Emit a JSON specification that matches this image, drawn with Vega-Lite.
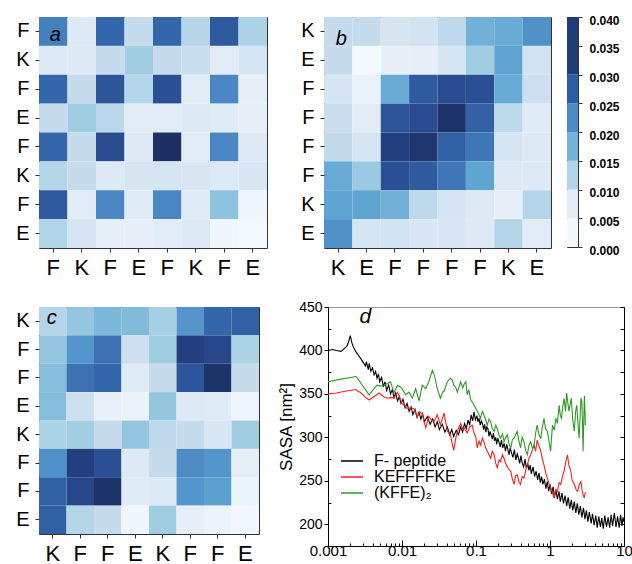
{
"$schema": "https://vega.github.io/schema/vega-lite/v6.json",
"padding": {"left": 6, "top": 13, "right": 0, "bottom": 0},
"config": {
  "font": "Liberation Sans",
  "view": {"stroke": "#333333", "strokeWidth": 1},
  "axis": {"labelFont": "Liberation Sans", "titleFont": "Liberation Sans", "labelColor": "#000000", "tickColor": "#333333", "domain": false, "grid": false, "labelAngle": 0, "titleFontWeight": "normal", "titleColor": "#000000"}
},
"datasets": {
  "A": [
    {"r":0,"c":0,"v":0.023},{"r":0,"c":1,"v":0.008},{"r":0,"c":2,"v":0.026},{"r":0,"c":3,"v":0.011},{"r":0,"c":4,"v":0.026},{"r":0,"c":5,"v":0.013},{"r":0,"c":6,"v":0.028},{"r":0,"c":7,"v":0.014},
    {"r":1,"c":0,"v":0.008},{"r":1,"c":1,"v":0.008},{"r":1,"c":2,"v":0.011},{"r":1,"c":3,"v":0.015},{"r":1,"c":4,"v":0.011},{"r":1,"c":5,"v":0.0105},{"r":1,"c":6,"v":0.007},{"r":1,"c":7,"v":0.009},
    {"r":2,"c":0,"v":0.026},{"r":2,"c":1,"v":0.011},{"r":2,"c":2,"v":0.029},{"r":2,"c":3,"v":0.013},{"r":2,"c":4,"v":0.030},{"r":2,"c":5,"v":0.007},{"r":2,"c":6,"v":0.022},{"r":2,"c":7,"v":0.006},
    {"r":3,"c":0,"v":0.011},{"r":3,"c":1,"v":0.015},{"r":3,"c":2,"v":0.0125},{"r":3,"c":3,"v":0.007},{"r":3,"c":4,"v":0.007},{"r":3,"c":5,"v":0.008},{"r":3,"c":6,"v":0.0075},{"r":3,"c":7,"v":0.006},
    {"r":4,"c":0,"v":0.026},{"r":4,"c":1,"v":0.011},{"r":4,"c":2,"v":0.031},{"r":4,"c":3,"v":0.008},{"r":4,"c":4,"v":0.039},{"r":4,"c":5,"v":0.007},{"r":4,"c":6,"v":0.022},{"r":4,"c":7,"v":0.008},
    {"r":5,"c":0,"v":0.013},{"r":5,"c":1,"v":0.011},{"r":5,"c":2,"v":0.008},{"r":5,"c":3,"v":0.009},{"r":5,"c":4,"v":0.009},{"r":5,"c":5,"v":0.0085},{"r":5,"c":6,"v":0.008},{"r":5,"c":7,"v":0.0085},
    {"r":6,"c":0,"v":0.028},{"r":6,"c":1,"v":0.007},{"r":6,"c":2,"v":0.022},{"r":6,"c":3,"v":0.0075},{"r":6,"c":4,"v":0.022},{"r":6,"c":5,"v":0.0075},{"r":6,"c":6,"v":0.0165},{"r":6,"c":7,"v":0.003},
    {"r":7,"c":0,"v":0.0135},{"r":7,"c":1,"v":0.009},{"r":7,"c":2,"v":0.006},{"r":7,"c":3,"v":0.006},{"r":7,"c":4,"v":0.007},{"r":7,"c":5,"v":0.008},{"r":7,"c":6,"v":0.003},{"r":7,"c":7,"v":0.001}
  ],
  "B": [
    {"r":0,"c":0,"v":0.011},{"r":0,"c":1,"v":0.011},{"r":0,"c":2,"v":0.009},{"r":0,"c":3,"v":0.0095},{"r":0,"c":4,"v":0.012},{"r":0,"c":5,"v":0.018},{"r":0,"c":6,"v":0.0185},{"r":0,"c":7,"v":0.021},
    {"r":1,"c":0,"v":0.011},{"r":1,"c":1,"v":0.001},{"r":1,"c":2,"v":0.006},{"r":1,"c":3,"v":0.006},{"r":1,"c":4,"v":0.009},{"r":1,"c":5,"v":0.015},{"r":1,"c":6,"v":0.019},{"r":1,"c":7,"v":0.0095},
    {"r":2,"c":0,"v":0.009},{"r":2,"c":1,"v":0.005},{"r":2,"c":2,"v":0.0185},{"r":2,"c":3,"v":0.028},{"r":2,"c":4,"v":0.031},{"r":2,"c":5,"v":0.030},{"r":2,"c":6,"v":0.0185},{"r":2,"c":7,"v":0.010},
    {"r":3,"c":0,"v":0.0105},{"r":3,"c":1,"v":0.007},{"r":3,"c":2,"v":0.029},{"r":3,"c":3,"v":0.031},{"r":3,"c":4,"v":0.038},{"r":3,"c":5,"v":0.027},{"r":3,"c":6,"v":0.012},{"r":3,"c":7,"v":0.0075},
    {"r":4,"c":0,"v":0.0115},{"r":4,"c":1,"v":0.009},{"r":4,"c":2,"v":0.034},{"r":4,"c":3,"v":0.037},{"r":4,"c":4,"v":0.027},{"r":4,"c":5,"v":0.024},{"r":4,"c":6,"v":0.009},{"r":4,"c":7,"v":0.008},
    {"r":5,"c":0,"v":0.0185},{"r":5,"c":1,"v":0.0155},{"r":5,"c":2,"v":0.030},{"r":5,"c":3,"v":0.028},{"r":5,"c":4,"v":0.024},{"r":5,"c":5,"v":0.019},{"r":5,"c":6,"v":0.008},{"r":5,"c":7,"v":0.008},
    {"r":6,"c":0,"v":0.019},{"r":6,"c":1,"v":0.019},{"r":6,"c":2,"v":0.018},{"r":6,"c":3,"v":0.012},{"r":6,"c":4,"v":0.009},{"r":6,"c":5,"v":0.008},{"r":6,"c":6,"v":0.006},{"r":6,"c":7,"v":0.013},
    {"r":7,"c":0,"v":0.021},{"r":7,"c":1,"v":0.009},{"r":7,"c":2,"v":0.0095},{"r":7,"c":3,"v":0.0085},{"r":7,"c":4,"v":0.0085},{"r":7,"c":5,"v":0.008},{"r":7,"c":6,"v":0.013},{"r":7,"c":7,"v":0.007}
  ],
  "C": [
    {"r":0,"c":0,"v":0.013},{"r":0,"c":1,"v":0.016},{"r":0,"c":2,"v":0.0175},{"r":0,"c":3,"v":0.0172},{"r":0,"c":4,"v":0.0145},{"r":0,"c":5,"v":0.0205},{"r":0,"c":6,"v":0.026},{"r":0,"c":7,"v":0.027},
    {"r":1,"c":0,"v":0.016},{"r":1,"c":1,"v":0.0205},{"r":1,"c":2,"v":0.0245},{"r":1,"c":3,"v":0.010},{"r":1,"c":4,"v":0.015},{"r":1,"c":5,"v":0.034},{"r":1,"c":6,"v":0.032},{"r":1,"c":7,"v":0.014},
    {"r":2,"c":0,"v":0.017},{"r":2,"c":1,"v":0.0245},{"r":2,"c":2,"v":0.026},{"r":2,"c":3,"v":0.0075},{"r":2,"c":4,"v":0.011},{"r":2,"c":5,"v":0.029},{"r":2,"c":6,"v":0.038},{"r":2,"c":7,"v":0.011},
    {"r":3,"c":0,"v":0.017},{"r":3,"c":1,"v":0.010},{"r":3,"c":2,"v":0.0055},{"r":3,"c":3,"v":0.005},{"r":3,"c":4,"v":0.016},{"r":3,"c":5,"v":0.008},{"r":3,"c":6,"v":0.0075},{"r":3,"c":7,"v":0.0035},
    {"r":4,"c":0,"v":0.014},{"r":4,"c":1,"v":0.0148},{"r":4,"c":2,"v":0.011},{"r":4,"c":3,"v":0.016},{"r":4,"c":4,"v":0.012},{"r":4,"c":5,"v":0.011},{"r":4,"c":6,"v":0.0085},{"r":4,"c":7,"v":0.015},
    {"r":5,"c":0,"v":0.021},{"r":5,"c":1,"v":0.034},{"r":5,"c":2,"v":0.030},{"r":5,"c":3,"v":0.008},{"r":5,"c":4,"v":0.011},{"r":5,"c":5,"v":0.0215},{"r":5,"c":6,"v":0.0205},{"r":5,"c":7,"v":0.006},
    {"r":6,"c":0,"v":0.027},{"r":6,"c":1,"v":0.032},{"r":6,"c":2,"v":0.038},{"r":6,"c":3,"v":0.0075},{"r":6,"c":4,"v":0.008},{"r":6,"c":5,"v":0.0205},{"r":6,"c":6,"v":0.0195},{"r":6,"c":7,"v":0.0045},
    {"r":7,"c":0,"v":0.027},{"r":7,"c":1,"v":0.013},{"r":7,"c":2,"v":0.011},{"r":7,"c":3,"v":0.003},{"r":7,"c":4,"v":0.015},{"r":7,"c":5,"v":0.006},{"r":7,"c":6,"v":0.0045},{"r":7,"c":7,"v":0.002}
  ],
  "bins": [
    {"bin":"b1","lo":0.000,"hi":0.005},{"bin":"b2","lo":0.005,"hi":0.010},{"bin":"b3","lo":0.010,"hi":0.015},{"bin":"b4","lo":0.015,"hi":0.020},{"bin":"b5","lo":0.020,"hi":0.025},{"bin":"b6","lo":0.025,"hi":0.030},{"bin":"b7","lo":0.030,"hi":0.040}
  ],
  "lines": [
    {"s":"F- peptide","t":0.001,"v":400},{"s":"F- peptide","t":0.00115,"v":401},{"s":"F- peptide","t":0.0013,"v":400},{"s":"F- peptide","t":0.0015,"v":399},{"s":"F- peptide","t":0.0016,"v":401},{"s":"F- peptide","t":0.0018,"v":405},{"s":"F- peptide","t":0.0019,"v":410},{"s":"F- peptide","t":0.002,"v":417},{"s":"F- peptide","t":0.0021,"v":409},{"s":"F- peptide","t":0.0022,"v":404},{"s":"F- peptide","t":0.0024,"v":398},{"s":"F- peptide","t":0.0026,"v":394},{"s":"F- peptide","t":0.0028,"v":390},{"s":"F- peptide","t":0.003,"v":386},{"s":"F- peptide","t":0.0032,"v":382},{"s":"F- peptide","t":0.0033,"v":387},{"s":"F- peptide","t":0.0035,"v":378},{"s":"F- peptide","t":0.0036,"v":385},{"s":"F- peptide","t":0.0038,"v":376},{"s":"F- peptide","t":0.004,"v":380},{"s":"F- peptide","t":0.0042,"v":372},{"s":"F- peptide","t":0.0044,"v":376},{"s":"F- peptide","t":0.0046,"v":368},{"s":"F- peptide","t":0.0048,"v":373},{"s":"F- peptide","t":0.005,"v":364},{"s":"F- peptide","t":0.0053,"v":369},{"s":"F- peptide","t":0.0056,"v":358},{"s":"F- peptide","t":0.0059,"v":364},{"s":"F- peptide","t":0.0062,"v":354},{"s":"F- peptide","t":0.0066,"v":360},{"s":"F- peptide","t":0.007,"v":350},{"s":"F- peptide","t":0.0074,"v":355},{"s":"F- peptide","t":0.0078,"v":346},{"s":"F- peptide","t":0.0082,"v":351},{"s":"F- peptide","t":0.0087,"v":342},{"s":"F- peptide","t":0.0092,"v":347},{"s":"F- peptide","t":0.0097,"v":339},{"s":"F- peptide","t":0.0103,"v":344},{"s":"F- peptide","t":0.011,"v":334},{"s":"F- peptide","t":0.0117,"v":339},{"s":"F- peptide","t":0.0125,"v":330},{"s":"F- peptide","t":0.0133,"v":335},{"s":"F- peptide","t":0.014,"v":326},{"s":"F- peptide","t":0.015,"v":332},{"s":"F- peptide","t":0.016,"v":323},{"s":"F- peptide","t":0.017,"v":329},{"s":"F- peptide","t":0.018,"v":321},{"s":"F- peptide","t":0.019,"v":327},{"s":"F- peptide","t":0.02,"v":318},{"s":"F- peptide","t":0.022,"v":324},{"s":"F- peptide","t":0.024,"v":315},{"s":"F- peptide","t":0.026,"v":321},{"s":"F- peptide","t":0.028,"v":312},{"s":"F- peptide","t":0.03,"v":318},{"s":"F- peptide","t":0.032,"v":309},{"s":"F- peptide","t":0.035,"v":315},{"s":"F- peptide","t":0.038,"v":306},{"s":"F- peptide","t":0.041,"v":312},{"s":"F- peptide","t":0.044,"v":303},{"s":"F- peptide","t":0.047,"v":309},{"s":"F- peptide","t":0.05,"v":301},{"s":"F- peptide","t":0.054,"v":308},{"s":"F- peptide","t":0.058,"v":303},{"s":"F- peptide","t":0.062,"v":312},{"s":"F- peptide","t":0.066,"v":306},{"s":"F- peptide","t":0.07,"v":316},{"s":"F- peptide","t":0.074,"v":310},{"s":"F- peptide","t":0.078,"v":320},{"s":"F- peptide","t":0.082,"v":314},{"s":"F- peptide","t":0.086,"v":326},{"s":"F- peptide","t":0.09,"v":319},{"s":"F- peptide","t":0.094,"v":329},{"s":"F- peptide","t":0.098,"v":320},
    {"s":"F- peptide","t":0.103,"v":325},{"s":"F- peptide","t":0.106,"v":318},{"s":"F- peptide","t":0.11,"v":322},{"s":"F- peptide","t":0.114,"v":314},{"s":"F- peptide","t":0.118,"v":319},{"s":"F- peptide","t":0.122,"v":316},{"s":"F- peptide","t":0.127,"v":309},{"s":"F- peptide","t":0.131,"v":315},{"s":"F- peptide","t":0.136,"v":306},{"s":"F- peptide","t":0.14,"v":312},{"s":"F- peptide","t":0.145,"v":310},{"s":"F- peptide","t":0.15,"v":301},{"s":"F- peptide","t":0.155,"v":307},{"s":"F- peptide","t":0.16,"v":303},{"s":"F- peptide","t":0.166,"v":298},{"s":"F- peptide","t":0.172,"v":305},{"s":"F- peptide","t":0.178,"v":296},{"s":"F- peptide","t":0.185,"v":300},{"s":"F- peptide","t":0.19,"v":292},{"s":"F- peptide","t":0.197,"v":299},{"s":"F- peptide","t":0.205,"v":294},{"s":"F- peptide","t":0.213,"v":289},{"s":"F- peptide","t":0.22,"v":297},{"s":"F- peptide","t":0.23,"v":288},{"s":"F- peptide","t":0.24,"v":293},{"s":"F- peptide","t":0.25,"v":284},{"s":"F- peptide","t":0.26,"v":292},{"s":"F- peptide","t":0.27,"v":286},{"s":"F- peptide","t":0.28,"v":280},{"s":"F- peptide","t":0.29,"v":288},{"s":"F- peptide","t":0.3,"v":283},{"s":"F- peptide","t":0.315,"v":277},{"s":"F- peptide","t":0.33,"v":286},{"s":"F- peptide","t":0.345,"v":274},{"s":"F- peptide","t":0.36,"v":281},{"s":"F- peptide","t":0.375,"v":276},{"s":"F- peptide","t":0.39,"v":270},{"s":"F- peptide","t":0.405,"v":279},{"s":"F- peptide","t":0.42,"v":271},{"s":"F- peptide","t":0.44,"v":266},{"s":"F- peptide","t":0.46,"v":275},{"s":"F- peptide","t":0.48,"v":264},{"s":"F- peptide","t":0.5,"v":270},{"s":"F- peptide","t":0.52,"v":262},{"s":"F- peptide","t":0.54,"v":268},{"s":"F- peptide","t":0.56,"v":258},{"s":"F- peptide","t":0.59,"v":266},{"s":"F- peptide","t":0.62,"v":255},{"s":"F- peptide","t":0.65,"v":261},{"s":"F- peptide","t":0.68,"v":251},{"s":"F- peptide","t":0.71,"v":259},{"s":"F- peptide","t":0.74,"v":248},{"s":"F- peptide","t":0.77,"v":255},{"s":"F- peptide","t":0.8,"v":246},{"s":"F- peptide","t":0.84,"v":252},{"s":"F- peptide","t":0.88,"v":241},{"s":"F- peptide","t":0.92,"v":249},{"s":"F- peptide","t":0.96,"v":238},{"s":"F- peptide","t":1.0,"v":246},{"s":"F- peptide","t":1.05,"v":235},{"s":"F- peptide","t":1.1,"v":243},{"s":"F- peptide","t":1.15,"v":231},{"s":"F- peptide","t":1.2,"v":240},{"s":"F- peptide","t":1.26,"v":229},{"s":"F- peptide","t":1.32,"v":238},{"s":"F- peptide","t":1.38,"v":226},{"s":"F- peptide","t":1.45,"v":236},{"s":"F- peptide","t":1.52,"v":224},{"s":"F- peptide","t":1.6,"v":233},{"s":"F- peptide","t":1.68,"v":221},{"s":"F- peptide","t":1.76,"v":231},{"s":"F- peptide","t":1.85,"v":218},{"s":"F- peptide","t":1.94,"v":228},{"s":"F- peptide","t":2.03,"v":216},{"s":"F- peptide","t":2.13,"v":226},{"s":"F- peptide","t":2.23,"v":213},{"s":"F- peptide","t":2.34,"v":224},{"s":"F- peptide","t":2.45,"v":211},{"s":"F- peptide","t":2.57,"v":221},{"s":"F- peptide","t":2.7,"v":208},{"s":"F- peptide","t":2.83,"v":219},{"s":"F- peptide","t":2.97,"v":206},{"s":"F- peptide","t":3.1,"v":216},{"s":"F- peptide","t":3.25,"v":203},{"s":"F- peptide","t":3.4,"v":214},{"s":"F- peptide","t":3.6,"v":201},{"s":"F- peptide","t":3.75,"v":212},{"s":"F- peptide","t":3.95,"v":199},{"s":"F- peptide","t":4.15,"v":210},{"s":"F- peptide","t":4.35,"v":196},{"s":"F- peptide","t":4.55,"v":209},{"s":"F- peptide","t":4.8,"v":197},{"s":"F- peptide","t":5.0,"v":207},{"s":"F- peptide","t":5.25,"v":195},{"s":"F- peptide","t":5.5,"v":210},{"s":"F- peptide","t":5.8,"v":197},{"s":"F- peptide","t":6.1,"v":208},{"s":"F- peptide","t":6.4,"v":196},{"s":"F- peptide","t":6.7,"v":211},{"s":"F- peptide","t":7.0,"v":198},{"s":"F- peptide","t":7.4,"v":213},{"s":"F- peptide","t":7.8,"v":197},{"s":"F- peptide","t":8.2,"v":209},{"s":"F- peptide","t":8.6,"v":196},{"s":"F- peptide","t":9.0,"v":211},{"s":"F- peptide","t":9.4,"v":198},{"s":"F- peptide","t":9.7,"v":208},{"s":"F- peptide","t":10,"v":203},
    {"s":"KEFFFFKE","t":0.001,"v":350},{"s":"KEFFFFKE","t":0.0013,"v":351},{"s":"KEFFFFKE","t":0.0017,"v":353},{"s":"KEFFFFKE","t":0.00236,"v":355},{"s":"KEFFFFKE","t":0.0028,"v":351},{"s":"KEFFFFKE","t":0.0032,"v":346},{"s":"KEFFFFKE","t":0.0036,"v":343},{"s":"KEFFFFKE","t":0.0042,"v":347},{"s":"KEFFFFKE","t":0.0049,"v":351},{"s":"KEFFFFKE","t":0.0056,"v":347},{"s":"KEFFFFKE","t":0.0063,"v":345},{"s":"KEFFFFKE","t":0.0072,"v":346},{"s":"KEFFFFKE","t":0.0078,"v":345},{"s":"KEFFFFKE","t":0.0087,"v":352},{"s":"KEFFFFKE","t":0.0095,"v":344},{"s":"KEFFFFKE","t":0.01,"v":339},{"s":"KEFFFFKE","t":0.011,"v":336},{"s":"KEFFFFKE","t":0.0118,"v":333},{"s":"KEFFFFKE","t":0.013,"v":334},{"s":"KEFFFFKE","t":0.0145,"v":333},{"s":"KEFFFFKE","t":0.016,"v":324},{"s":"KEFFFFKE","t":0.0175,"v":329},{"s":"KEFFFFKE","t":0.0188,"v":327},{"s":"KEFFFFKE","t":0.0209,"v":311},{"s":"KEFFFFKE","t":0.023,"v":324},{"s":"KEFFFFKE","t":0.025,"v":320},{"s":"KEFFFFKE","t":0.027,"v":318},{"s":"KEFFFFKE","t":0.03,"v":326},{"s":"KEFFFFKE","t":0.033,"v":314},{"s":"KEFFFFKE","t":0.037,"v":328},{"s":"KEFFFFKE","t":0.041,"v":307},{"s":"KEFFFFKE","t":0.045,"v":303},{"s":"KEFFFFKE","t":0.048,"v":292},{"s":"KEFFFFKE","t":0.05,"v":285},{"s":"KEFFFFKE","t":0.053,"v":298},{"s":"KEFFFFKE","t":0.056,"v":307},{"s":"KEFFFFKE","t":0.062,"v":316},{"s":"KEFFFFKE","t":0.066,"v":310},{"s":"KEFFFFKE","t":0.069,"v":311},{"s":"KEFFFFKE","t":0.076,"v":305},{"s":"KEFFFFKE","t":0.082,"v":312},{"s":"KEFFFFKE","t":0.089,"v":314},{"s":"KEFFFFKE","t":0.094,"v":305},{"s":"KEFFFFKE","t":0.099,"v":301},{"s":"KEFFFFKE","t":0.104,"v":288},{"s":"KEFFFFKE","t":0.11,"v":296},{"s":"KEFFFFKE","t":0.115,"v":291},{"s":"KEFFFFKE","t":0.122,"v":299},{"s":"KEFFFFKE","t":0.128,"v":295},{"s":"KEFFFFKE","t":0.135,"v":288},{"s":"KEFFFFKE","t":0.142,"v":284},{"s":"KEFFFFKE","t":0.15,"v":280},{"s":"KEFFFFKE","t":0.158,"v":276},{"s":"KEFFFFKE","t":0.166,"v":284},{"s":"KEFFFFKE","t":0.176,"v":280},{"s":"KEFFFFKE","t":0.185,"v":270},{"s":"KEFFFFKE","t":0.194,"v":265},{"s":"KEFFFFKE","t":0.205,"v":274},{"s":"KEFFFFKE","t":0.215,"v":272},{"s":"KEFFFFKE","t":0.228,"v":280},{"s":"KEFFFFKE","t":0.239,"v":276},{"s":"KEFFFFKE","t":0.252,"v":270},{"s":"KEFFFFKE","t":0.265,"v":266},{"s":"KEFFFFKE","t":0.28,"v":263},{"s":"KEFFFFKE","t":0.295,"v":261},{"s":"KEFFFFKE","t":0.31,"v":252},{"s":"KEFFFFKE","t":0.327,"v":246},{"s":"KEFFFFKE","t":0.343,"v":256},{"s":"KEFFFFKE","t":0.36,"v":257},{"s":"KEFFFFKE","t":0.38,"v":249},{"s":"KEFFFFKE","t":0.4,"v":246},{"s":"KEFFFFKE","t":0.42,"v":255},{"s":"KEFFFFKE","t":0.445,"v":253},{"s":"KEFFFFKE","t":0.47,"v":262},{"s":"KEFFFFKE","t":0.494,"v":268},{"s":"KEFFFFKE","t":0.52,"v":276},{"s":"KEFFFFKE","t":0.55,"v":280},{"s":"KEFFFFKE","t":0.58,"v":286},{"s":"KEFFFFKE","t":0.61,"v":291},{"s":"KEFFFFKE","t":0.64,"v":284},{"s":"KEFFFFKE","t":0.67,"v":297},{"s":"KEFFFFKE","t":0.71,"v":290},{"s":"KEFFFFKE","t":0.75,"v":284},{"s":"KEFFFFKE","t":0.79,"v":275},{"s":"KEFFFFKE","t":0.83,"v":268},{"s":"KEFFFFKE","t":0.87,"v":260},{"s":"KEFFFFKE","t":0.92,"v":253},{"s":"KEFFFFKE","t":0.97,"v":247},{"s":"KEFFFFKE","t":1.02,"v":242},{"s":"KEFFFFKE","t":1.08,"v":236},{"s":"KEFFFFKE","t":1.13,"v":230},{"s":"KEFFFFKE","t":1.2,"v":240},{"s":"KEFFFFKE","t":1.26,"v":238},{"s":"KEFFFFKE","t":1.33,"v":248},{"s":"KEFFFFKE","t":1.4,"v":246},{"s":"KEFFFFKE","t":1.48,"v":256},{"s":"KEFFFFKE","t":1.55,"v":261},{"s":"KEFFFFKE","t":1.62,"v":270},{"s":"KEFFFFKE","t":1.72,"v":280},{"s":"KEFFFFKE","t":1.8,"v":268},{"s":"KEFFFFKE","t":1.91,"v":261},{"s":"KEFFFFKE","t":2.0,"v":250},{"s":"KEFFFFKE","t":2.13,"v":246},{"s":"KEFFFFKE","t":2.25,"v":240},{"s":"KEFFFFKE","t":2.36,"v":238},{"s":"KEFFFFKE","t":2.5,"v":246},{"s":"KEFFFFKE","t":2.62,"v":249},{"s":"KEFFFFKE","t":2.75,"v":236},{"s":"KEFFFFKE","t":2.9,"v":230},{"s":"KEFFFFKE","t":3.0,"v":237},
    {"s":"(KFFE)₂","t":0.001,"v":364},{"s":"(KFFE)₂","t":0.0015,"v":367},{"s":"(KFFE)₂","t":0.0024,"v":370},{"s":"(KFFE)₂","t":0.0036,"v":349},{"s":"(KFFE)₂","t":0.0046,"v":360},{"s":"(KFFE)₂","t":0.0052,"v":359},{"s":"(KFFE)₂","t":0.0057,"v":360},{"s":"(KFFE)₂","t":0.0064,"v":362},{"s":"(KFFE)₂","t":0.007,"v":364},{"s":"(KFFE)₂","t":0.0078,"v":351},{"s":"(KFFE)₂","t":0.0087,"v":360},{"s":"(KFFE)₂","t":0.0095,"v":358},{"s":"(KFFE)₂","t":0.01,"v":356},{"s":"(KFFE)₂","t":0.0112,"v":349},{"s":"(KFFE)₂","t":0.0124,"v":352},{"s":"(KFFE)₂","t":0.0138,"v":345},{"s":"(KFFE)₂","t":0.0153,"v":356},{"s":"(KFFE)₂","t":0.017,"v":342},{"s":"(KFFE)₂","t":0.0188,"v":360},{"s":"(KFFE)₂","t":0.0209,"v":356},{"s":"(KFFE)₂","t":0.023,"v":364},{"s":"(KFFE)₂","t":0.0257,"v":377},{"s":"(KFFE)₂","t":0.0275,"v":371},{"s":"(KFFE)₂","t":0.03,"v":356},{"s":"(KFFE)₂","t":0.033,"v":345},{"s":"(KFFE)₂","t":0.0355,"v":352},{"s":"(KFFE)₂","t":0.037,"v":353},{"s":"(KFFE)₂","t":0.041,"v":364},{"s":"(KFFE)₂","t":0.045,"v":368},{"s":"(KFFE)₂","t":0.048,"v":366},{"s":"(KFFE)₂","t":0.05,"v":360},{"s":"(KFFE)₂","t":0.053,"v":358},{"s":"(KFFE)₂","t":0.056,"v":352},{"s":"(KFFE)₂","t":0.062,"v":364},{"s":"(KFFE)₂","t":0.066,"v":357},{"s":"(KFFE)₂","t":0.069,"v":361},{"s":"(KFFE)₂","t":0.073,"v":364},{"s":"(KFFE)₂","t":0.076,"v":349},{"s":"(KFFE)₂","t":0.08,"v":355},{"s":"(KFFE)₂","t":0.085,"v":343},{"s":"(KFFE)₂","t":0.09,"v":340},{"s":"(KFFE)₂","t":0.094,"v":337},{"s":"(KFFE)₂","t":0.1,"v":333},{"s":"(KFFE)₂","t":0.104,"v":330},{"s":"(KFFE)₂","t":0.11,"v":326},{"s":"(KFFE)₂","t":0.115,"v":322},{"s":"(KFFE)₂","t":0.122,"v":330},{"s":"(KFFE)₂","t":0.128,"v":326},{"s":"(KFFE)₂","t":0.135,"v":320},{"s":"(KFFE)₂","t":0.142,"v":314},{"s":"(KFFE)₂","t":0.15,"v":321},{"s":"(KFFE)₂","t":0.158,"v":318},{"s":"(KFFE)₂","t":0.166,"v":310},{"s":"(KFFE)₂","t":0.176,"v":307},{"s":"(KFFE)₂","t":0.185,"v":314},{"s":"(KFFE)₂","t":0.194,"v":310},{"s":"(KFFE)₂","t":0.205,"v":302},{"s":"(KFFE)₂","t":0.215,"v":299},{"s":"(KFFE)₂","t":0.228,"v":304},{"s":"(KFFE)₂","t":0.239,"v":295},{"s":"(KFFE)₂","t":0.252,"v":300},{"s":"(KFFE)₂","t":0.265,"v":303},{"s":"(KFFE)₂","t":0.28,"v":292},{"s":"(KFFE)₂","t":0.295,"v":288},{"s":"(KFFE)₂","t":0.31,"v":297},{"s":"(KFFE)₂","t":0.327,"v":299},{"s":"(KFFE)₂","t":0.343,"v":303},{"s":"(KFFE)₂","t":0.36,"v":307},{"s":"(KFFE)₂","t":0.38,"v":296},{"s":"(KFFE)₂","t":0.4,"v":288},{"s":"(KFFE)₂","t":0.42,"v":300},{"s":"(KFFE)₂","t":0.445,"v":295},{"s":"(KFFE)₂","t":0.47,"v":285},{"s":"(KFFE)₂","t":0.494,"v":280},{"s":"(KFFE)₂","t":0.52,"v":291},{"s":"(KFFE)₂","t":0.55,"v":295},{"s":"(KFFE)₂","t":0.58,"v":287},{"s":"(KFFE)₂","t":0.61,"v":291},{"s":"(KFFE)₂","t":0.64,"v":305},{"s":"(KFFE)₂","t":0.67,"v":314},{"s":"(KFFE)₂","t":0.71,"v":303},{"s":"(KFFE)₂","t":0.75,"v":299},{"s":"(KFFE)₂","t":0.79,"v":312},{"s":"(KFFE)₂","t":0.83,"v":322},{"s":"(KFFE)₂","t":0.87,"v":310},{"s":"(KFFE)₂","t":0.92,"v":307},{"s":"(KFFE)₂","t":0.97,"v":295},{"s":"(KFFE)₂","t":1.02,"v":284},{"s":"(KFFE)₂","t":1.05,"v":300},{"s":"(KFFE)₂","t":1.08,"v":314},{"s":"(KFFE)₂","t":1.14,"v":308},{"s":"(KFFE)₂","t":1.2,"v":322},{"s":"(KFFE)₂","t":1.26,"v":316},{"s":"(KFFE)₂","t":1.33,"v":337},{"s":"(KFFE)₂","t":1.38,"v":325},{"s":"(KFFE)₂","t":1.43,"v":322},{"s":"(KFFE)₂","t":1.49,"v":336},{"s":"(KFFE)₂","t":1.55,"v":345},{"s":"(KFFE)₂","t":1.62,"v":330},{"s":"(KFFE)₂","t":1.68,"v":351},{"s":"(KFFE)₂","t":1.74,"v":340},{"s":"(KFFE)₂","t":1.8,"v":330},{"s":"(KFFE)₂","t":1.87,"v":338},{"s":"(KFFE)₂","t":1.94,"v":345},{"s":"(KFFE)₂","t":2.03,"v":320},{"s":"(KFFE)₂","t":2.13,"v":307},{"s":"(KFFE)₂","t":2.22,"v":330},{"s":"(KFFE)₂","t":2.3,"v":337},{"s":"(KFFE)₂","t":2.38,"v":318},{"s":"(KFFE)₂","t":2.47,"v":299},{"s":"(KFFE)₂","t":2.55,"v":322},{"s":"(KFFE)₂","t":2.62,"v":345},{"s":"(KFFE)₂","t":2.7,"v":341},{"s":"(KFFE)₂","t":2.76,"v":310},{"s":"(KFFE)₂","t":2.8,"v":284},{"s":"(KFFE)₂","t":2.86,"v":320},{"s":"(KFFE)₂","t":2.92,"v":348},{"s":"(KFFE)₂","t":2.97,"v":330},{"s":"(KFFE)₂","t":3.0,"v":314}
  ]
},
"resolve": {"scale": {"color": "independent"}},
"spacing": 20,
"columns": 1,
"align": "none",
"concat": [
  {
    "hconcat": [
      {
        "width": 228, "height": 231,
        "layer": [
          {"data": {"name": "A"}, "mark": "rect",
           "encoding": {
             "x": {"field": "c", "type": "ordinal", "axis": {"title": null, "labelFontSize": 22, "labelPadding": 5, "tickSize": 4, "labelExpr": "['F','K','F','E','F','K','F','E'][datum.value]"}},
             "y": {"field": "r", "type": "ordinal", "axis": {"title": null, "labelFontSize": 20, "labelPadding": 6, "tickSize": 4, "minExtent": 32, "labelExpr": "['F','K','F','E','F','K','F','E'][datum.value]"}},
             "color": {"field": "v", "type": "quantitative", "legend": null, "scale": {"domain": [0, 0.005, 0.008, 0.011, 0.014, 0.0165, 0.019, 0.022, 0.026, 0.03, 0.034, 0.04], "range": ["#f7fbff", "#eaf2fa", "#dde9f5", "#c6dcec", "#add3e6", "#8ec3de", "#5fa5d2", "#4a87c4", "#3366aa", "#2b4f94", "#223f80", "#1b2d5e"], "interpolate": "rgb"}}
           }},
          {"data": {"values": [{"lab": "a", "r": 0, "c": 0}]}, "mark": {"type": "text", "fontStyle": "italic", "fontSize": 20, "dx": 2, "dy": 4, "color": "#000000"},
           "encoding": {"x": {"field": "c", "type": "ordinal"}, "y": {"field": "r", "type": "ordinal"}, "text": {"field": "lab"}}}
        ]
      },
      {
        "width": 227, "height": 231,
        "layer": [
          {"data": {"name": "B"}, "mark": "rect",
           "encoding": {
             "x": {"field": "c", "type": "ordinal", "axis": {"title": null, "labelFontSize": 22, "labelPadding": 5, "tickSize": 4, "labelExpr": "['K','E','F','F','F','F','K','E'][datum.value]"}},
             "y": {"field": "r", "type": "ordinal", "axis": {"title": null, "labelFontSize": 20, "labelPadding": 6, "tickSize": 4, "minExtent": 41, "labelExpr": "['K','E','F','F','F','F','K','E'][datum.value]"}},
             "color": {"field": "v", "type": "quantitative", "legend": null, "scale": {"domain": [0, 0.005, 0.008, 0.011, 0.014, 0.0165, 0.019, 0.022, 0.026, 0.03, 0.034, 0.04], "range": ["#f7fbff", "#eaf2fa", "#dde9f5", "#c6dcec", "#add3e6", "#8ec3de", "#5fa5d2", "#4a87c4", "#3366aa", "#2b4f94", "#223f80", "#1b2d5e"], "interpolate": "rgb"}}
           }},
          {"data": {"values": [{"lab": "b", "r": 0, "c": 0}]}, "mark": {"type": "text", "fontStyle": "italic", "fontSize": 20, "dx": 3, "dy": 8, "color": "#000000"},
           "encoding": {"x": {"field": "c", "type": "ordinal"}, "y": {"field": "r", "type": "ordinal"}, "text": {"field": "lab"}}}
        ]
      },
      {
        "width": 11, "height": 230,
        "data": {"name": "bins"},
        "mark": "rect",
        "encoding": {
          "y": {"field": "lo", "type": "quantitative", "scale": {"domain": [0, 0.04], "nice": false, "zero": false}, "axis": {"title": null, "orient": "right", "values": [0, 0.005, 0.01, 0.015, 0.02, 0.025, 0.03, 0.035, 0.04], "format": ".3f", "labelFontWeight": "bold", "labelFontSize": 12, "tickSize": 4, "labelPadding": 7, "labelOffset": 3, "labelFlush": false, "labelOverlap": false}},
          "y2": {"field": "hi"},
          "color": {"field": "bin", "type": "nominal", "legend": null, "scale": {"domain": ["b1","b2","b3","b4","b5","b6","b7"], "range": ["#f3f8fd", "#e1ecf7", "#b3d3e8", "#72b3d6", "#4b8ac5", "#2e5da8", "#1f3b78"]}}
        }
      }
    ],
    "spacing": 14,
    "resolve": {"scale": {"color": "independent"}}
  },
  {
    "hconcat": [
      {
        "width": 220, "height": 227,
        "layer": [
          {"data": {"name": "C"}, "mark": "rect",
           "encoding": {
             "x": {"field": "c", "type": "ordinal", "axis": {"title": null, "labelFontSize": 22, "labelPadding": 5, "tickSize": 4, "labelExpr": "['K','F','F','E','K','F','F','E'][datum.value]"}},
             "y": {"field": "r", "type": "ordinal", "axis": {"title": null, "labelFontSize": 20, "labelPadding": 6, "tickSize": 4, "minExtent": 24, "maxExtent": 24, "labelExpr": "['K','F','F','E','K','F','F','E'][datum.value]"}},
             "color": {"field": "v", "type": "quantitative", "legend": null, "scale": {"domain": [0, 0.005, 0.008, 0.011, 0.014, 0.0165, 0.019, 0.022, 0.026, 0.03, 0.034, 0.04], "range": ["#f7fbff", "#eaf2fa", "#dde9f5", "#c6dcec", "#add3e6", "#8ec3de", "#5fa5d2", "#4a87c4", "#3366aa", "#2b4f94", "#223f80", "#1b2d5e"], "interpolate": "rgb"}}
           }},
          {"data": {"values": [{"lab": "c", "r": 0, "c": 0}]}, "mark": {"type": "text", "fontStyle": "italic", "fontSize": 20, "dx": -1, "dy": -3, "color": "#000000"},
           "encoding": {"x": {"field": "c", "type": "ordinal"}, "y": {"field": "r", "type": "ordinal"}, "text": {"field": "lab"}}}
        ]
      },
      {
        "width": 296, "height": 239,
        "view": {"stroke": "#999999"},
        "layer": [
          {"data": {"name": "lines"}, "mark": {"type": "line", "strokeWidth": 1.1},
           "encoding": {
             "x": {"field": "t", "type": "quantitative", "scale": {"type": "log", "domain": [0.001, 10], "nice": false},
                   "axis": {"title": "Time [µs]", "titleFontSize": 17, "titlePadding": 1, "labelFontSize": 15, "domain": true, "domainColor": "#000000", "tickColor": "#000000", "format": "~g", "labelFlush": false, "labelOverlap": false,
                            "values": [0.001,0.002,0.003,0.004,0.005,0.006,0.007,0.008,0.009,0.01,0.02,0.03,0.04,0.05,0.06,0.07,0.08,0.09,0.1,0.2,0.3,0.4,0.5,0.6,0.7,0.8,0.9,1,2,3,4,5,6,7,8,9,10],
                            "labelExpr": "indexof([0.001,0.01,0.1,1,10], datum.value) >= 0 ? datum.label : ''",
                            "tickSize": {"condition": {"test": "indexof([0.001,0.01,0.1,1,10], datum.value) >= 0", "value": -6}, "value": -3},
                            "labelPadding": 3}},
             "y": {"field": "v", "type": "quantitative", "scale": {"domain": [175, 450], "nice": false, "zero": false},
                   "axis": {"title": "SASA [nm²]", "titleFontSize": 17, "titlePadding": 3, "labelFontSize": 14, "domain": true, "domainColor": "#000000", "tickColor": "#000000", "labelFlush": false, "labelOverlap": false,
                            "values": [200,225,250,275,300,325,350,375,400,425,450],
                            "labelExpr": "datum.value % 50 == 0 ? datum.label : ''",
                            "tickSize": {"condition": {"test": "datum.value % 50 == 0", "value": 4}, "value": -3},
                            "labelPadding": 2}},
             "color": {"field": "s", "type": "nominal", "scale": {"domain": ["F- peptide", "KEFFFFKE", "(KFFE)₂"], "range": ["#000000", "#ff1f1f", "#2e9a26"]},
                       "legend": {"title": null, "orient": "none", "legendX": 16, "legendY": 146, "padding": 0, "labelFontSize": 16, "labelFont": "Liberation Sans", "symbolType": "M-1.57,0H1.57", "symbolSize": 196, "symbolStrokeWidth": 1.5, "labelOffset": 14, "rowPadding": 0}}
           }},
          {"data": {"values": [{"lab": "d", "t": 0.0032, "v": 438}]}, "mark": {"type": "text", "fontStyle": "italic", "fontSize": 21, "color": "#000000"},
           "encoding": {
             "x": {"field": "t", "type": "quantitative"},
             "y": {"field": "v", "type": "quantitative", "axis": {"orient": "right", "title": null, "labels": false, "domain": true, "domainColor": "#000000", "tickColor": "#000000", "tickSize": -4, "values": [200,225,250,275,300,325,350,375,400,425,450]}},
             "text": {"field": "lab"}
           }}
        ],
        "resolve": {"axis": {"y": "independent"}}
      }
    ],
    "spacing": 69,
    "bounds": "flush",
    "resolve": {"scale": {"color": "independent"}}
  }
]
}
